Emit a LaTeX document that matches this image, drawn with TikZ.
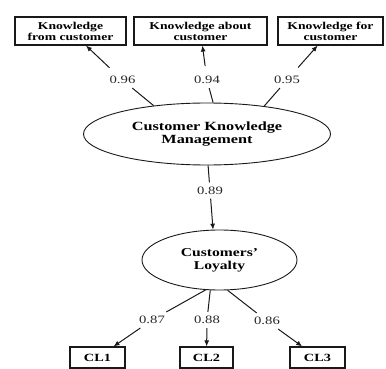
\documentclass[tikz,border=0pt]{standalone}
\usepackage{fontspec}
\setmainfont{Liberation Serif}[FakeStretch=1.3]
\usetikzlibrary{shapes.geometric,arrows.meta}
\begin{document}
\begin{tikzpicture}[x=1pt,y=-1pt,
  ind/.style={draw=black!90,line width=1.1pt,rectangle,inner sep=0pt,minimum height=28pt,align=center,
    font=\fontsize{10.5}{11}\selectfont\bfseries},
  clbox/.style={draw=black!90,line width=1.1pt,rectangle,inner sep=0pt,minimum height=21pt,
    font=\fontsize{11}{12}\selectfont\bfseries},
  lat/.style={draw=black!90,line width=0.9pt,ellipse,inner sep=0pt,align=center},
  coef/.style={inner sep=4pt,font=\fontsize{11.3}{12}\selectfont,text=black!85},
  seg/.style={draw=black!90,line width=1pt},
  arr/.style={seg,-{Latex[length=6pt,width=5pt]}}]
\useasboundingbox (0,0) rectangle (386,369);
% indicator boxes (top)
\node[ind,minimum width=111pt] (b1) at (70.5,31) {Knowledge\\from customer};
\node[ind,minimum width=133pt] (b2) at (200.5,31) {Knowledge about\\customer};
\node[ind,minimum width=105pt] (b3) at (330.5,31) {Knowledge for\\customer};
% latent variables
\node[lat,minimum width=247pt,minimum height=62pt,font=\fontsize{12.5}{13.5}\selectfont\bfseries] (ckm) at (207,134) {Customer Knowledge\\Management};
\node[lat,minimum width=155pt,minimum height=60pt,font=\fontsize{12}{13}\selectfont\bfseries] (cl) at (219.5,260) {Customers'\\Loyalty};
% bottom boxes
\node[clbox,minimum width=55pt] (c1) at (97.5,357.5) {CL1};
\node[clbox,minimum width=53pt] (c2) at (206.5,357.5) {CL2};
\node[clbox,minimum width=55pt] (c3) at (317.5,357.5) {CL3};
% coefficients
\node[coef] (l96) at (122.5,80) {0.96};
\node[coef] (l94) at (207,80) {0.94};
\node[coef] (l95) at (287,80) {0.95};
\node[coef] (l89) at (210,190.5) {0.89};
\node[coef] (l87) at (152,320) {0.87};
\node[coef] (l88) at (207,320) {0.88};
\node[coef] (l86) at (267,321) {0.86};
% connectors
\draw[seg] (ckm.152) -- (l96);
\draw[arr,shorten <=6pt] (l96) -- (b1);
\draw[seg] (ckm.79) -- (l94);
\draw[arr,shorten <=6pt] (l94) -- (b2);
\draw[seg] (ckm.26) -- (l95);
\draw[arr,shorten <=6pt] (l95) -- (b3);
\draw[seg] (ckm.272) -- (l89);
\draw[arr] (l89) -- (cl.102);
\draw[seg] (cl.245) -- (l87);
\draw[arr] (l87) -- (c1);
\draw[seg] (cl.253) -- (l88);
\draw[arr] (l88) -- (c2);
\draw[seg] (cl.285) -- (l86);
\draw[arr] (l86) -- (c3);
\end{tikzpicture}
\end{document}
